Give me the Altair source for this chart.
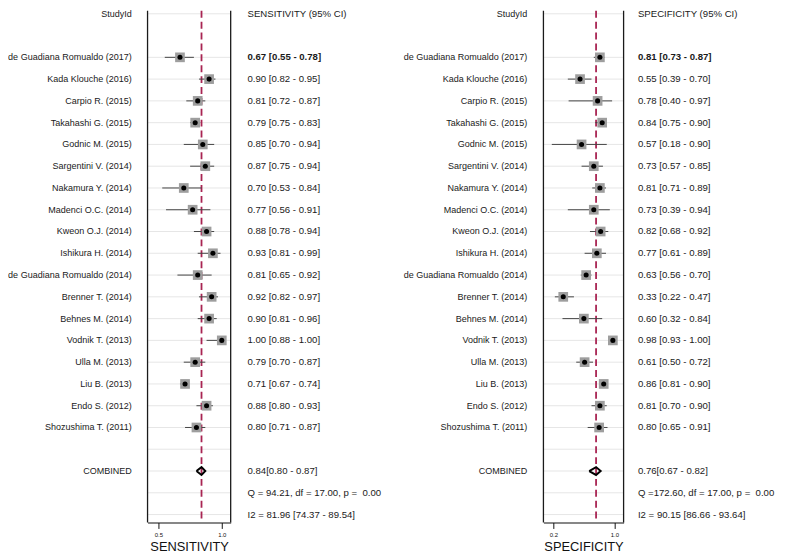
import altair as alt
import pandas as pd

# ---------------- data ----------------
studies = [
    "de Guadiana Romualdo (2017)", "Kada Klouche (2016)", "Carpio R. (2015)",
    "Takahashi G. (2015)", "Godnic M. (2015)", "Sargentini V. (2014)",
    "Nakamura Y. (2014)", "Madenci O.C. (2014)", "Kweon O.J. (2014)",
    "Ishikura H. (2014)", "de Guadiana Romualdo (2014)", "Brenner T. (2014)",
    "Behnes M. (2014)", "Vodnik T. (2013)", "Ulla M. (2013)", "Liu B. (2013)",
    "Endo S. (2012)", "Shozushima T. (2011)",
]
sens_est = [0.67, 0.90, 0.81, 0.79, 0.85, 0.87, 0.70, 0.77, 0.88, 0.93, 0.81, 0.92, 0.90, 1.00, 0.79, 0.71, 0.88, 0.80]
sens_lo = [0.55, 0.82, 0.72, 0.75, 0.70, 0.75, 0.53, 0.56, 0.78, 0.81, 0.65, 0.82, 0.81, 0.88, 0.70, 0.67, 0.80, 0.71]
sens_hi = [0.78, 0.95, 0.87, 0.83, 0.94, 0.94, 0.84, 0.91, 0.94, 0.99, 0.92, 0.97, 0.96, 1.00, 0.87, 0.74, 0.93, 0.87]

spec_est = [0.81, 0.55, 0.78, 0.84, 0.57, 0.73, 0.81, 0.73, 0.82, 0.77, 0.63, 0.33, 0.60, 0.98, 0.61, 0.86, 0.81, 0.80]
spec_lo = [0.73, 0.39, 0.40, 0.75, 0.18, 0.57, 0.71, 0.39, 0.68, 0.61, 0.56, 0.22, 0.32, 0.93, 0.50, 0.81, 0.70, 0.65]
spec_hi = [0.87, 0.70, 0.97, 0.90, 0.90, 0.85, 0.89, 0.94, 0.92, 0.89, 0.70, 0.47, 0.84, 1.00, 0.72, 0.90, 0.90, 0.91]

sens_pooled = [0.84, 0.80, 0.87]
spec_pooled = [0.76, 0.67, 0.82]
NB = "\u00a0"
sens_q_text = "Q = 94.21, df = 17.00, p =" + NB + " 0.00"
sens_i2_text = "I2 = 81.96 [74.37 - 89.54]"
spec_q_text = "Q =172.60, df = 17.00, p =" + NB + " 0.00"
spec_i2_text = "I2 = 90.15 [86.66 - 93.64]"
sens_ticks = [0.5, 1.0]
spec_ticks = [0.2, 1.0]

# ---------------- layout ----------------
FONT = "Liberation Sans"
TXT = "#1a1a1a"
ROW_PX = 22.0
TOP_PX = 3.0
PLOT_H = 517
FIRST_ROW = 2
COMB_ROW = FIRST_ROW + len(studies) + 1

y_scale = alt.Scale(domain=[(PLOT_H - TOP_PX) / ROW_PX, -TOP_PX / ROW_PX], nice=False, zero=False)


def Y():
    return alt.Y("row:Q", scale=y_scale, axis=None)


def panel(est, lo, hi, pooled, q_text, i2_text, header, axis_title, ticks,
          x_dom, x_rng, label_x, value_x):
    xs = alt.Scale(domain=x_dom, range=x_rng, nice=False, zero=False)
    ax = alt.Axis(values=ticks, format=".1f", orient="bottom", title=axis_title,
                  grid=False, tickSize=6, tickWidth=1, labelFontSize=6,
                  titleFontSize=13, labelPadding=3, titlePadding=3,
                  domainColor="#111111", domainWidth=1.2, tickColor="#111111",
                  labelColor="#111111", titleColor="#111111",
                  titleFontWeight="normal", labelFont=FONT, titleFont=FONT,
                  labelFlush=False, labelOverlap=False)

    rows = list(range(FIRST_ROW, FIRST_ROW + len(studies)))
    df = pd.DataFrame({
        "row": rows, "est": est, "lo": lo, "hi": hi,
        "txt": [f"{e:.2f} [{l:.2f} - {h:.2f}]" for e, l, h in zip(est, lo, hi)],
    })
    grid_df = pd.DataFrame({"row": [0] + list(range(FIRST_ROW, COMB_ROW + 3))})
    frame_df = pd.DataFrame({"edge": x_dom})
    pooled_df = pd.DataFrame({"est": [pooled[0]]})
    r = COMB_ROW
    diamond_df = pd.DataFrame({
        "x": [pooled[1], pooled[0], pooled[2], pooled[0], pooled[1]],
        "row": [r, r - 0.18, r, r + 0.18, r],
        "k": list(range(5)),
    })
    labels_df = pd.DataFrame({
        "row": [0] + rows + [COMB_ROW],
        "label": ["StudyId"] + studies + ["COMBINED"],
    })
    values_df = pd.DataFrame({
        "row": [0] + rows[1:] + [COMB_ROW, COMB_ROW + 1, COMB_ROW + 2],
        "txt": [header] + list(df["txt"][1:]) + [
            NB + f"{pooled[0]:.2f}[{pooled[1]:.2f} - {pooled[2]:.2f}]", q_text, i2_text],
    })
    bold_df = df.iloc[[0]]

    grid = alt.Chart(grid_df).mark_rule(color="#e6e6e6", strokeWidth=1).encode(
        x=alt.value(x_rng[0]), x2=alt.value(x_rng[1]), y=Y())
    frame = alt.Chart(frame_df).mark_rule(color="#1a1a1a", strokeWidth=1.3).encode(
        x=alt.X("edge:Q", scale=xs, axis=ax))
    dash = alt.Chart(pooled_df).mark_rule(color="#A82452", strokeWidth=1.8,
                                          strokeDash=[7, 4]).encode(
        x=alt.X("est:Q", scale=xs, axis=ax))
    whisk = alt.Chart(df).mark_rule(color="#444444", strokeWidth=1).encode(
        x=alt.X("lo:Q", scale=xs, axis=ax), x2="hi:Q", y=Y())
    box = alt.Chart(df).mark_square(color="#9e9e9e", opacity=1, size=96).encode(
        x=alt.X("est:Q", scale=xs, axis=ax), y=Y())
    dot = alt.Chart(df).mark_circle(color="black", opacity=1, size=26).encode(
        x=alt.X("est:Q", scale=xs, axis=ax), y=Y())
    diamond = alt.Chart(diamond_df).mark_line(color="black", strokeWidth=2,
                                              strokeJoin="miter").encode(
        x=alt.X("x:Q", scale=xs, axis=ax), y=Y(), order="k:Q")
    labels = alt.Chart(labels_df).mark_text(align="right", baseline="middle",
                                            font=FONT, fontSize=9.1, color=TXT).encode(
        x=alt.value(label_x), y=Y(), text="label:N")
    values = alt.Chart(values_df).mark_text(align="left", baseline="middle",
                                            font=FONT, fontSize=9.7, color=TXT).encode(
        x=alt.value(value_x), y=Y(), text="txt:N")
    bold = alt.Chart(bold_df).mark_text(align="left", baseline="middle",
                                        font=FONT, fontSize=9.7, fontWeight="bold",
                                        color=TXT).encode(
        x=alt.value(value_x), y=Y(), text="txt:N")
    return alt.layer(grid, frame, dash, whisk, box, dot, diamond, labels, values, bold)


left = panel(sens_est, sens_lo, sens_hi, sens_pooled, sens_q_text, sens_i2_text,
             "SENSITIVITY (95% CI)", "SENSITIVITY", sens_ticks,
             [0.414, 1.0703], [141, 225], 125, 242)
right = panel(spec_est, spec_lo, spec_hi, spec_pooled, spec_q_text, spec_i2_text,
              "SPECIFICITY (95% CI)", "SPECIFICITY", spec_ticks,
              [0.0703, 1.1206], [541, 622], 524.7, 636.5)

chart = alt.layer(left, right).resolve_scale(x="independent").properties(
    width=777, height=PLOT_H,
    autosize=alt.AutoSizeParams(type="none"),
    padding={"left": 0, "top": 0, "right": 0, "bottom": 30},
).configure_view(strokeWidth=0)

chart.save("out.html", embed_options={"renderer": "svg", "actions": False})
